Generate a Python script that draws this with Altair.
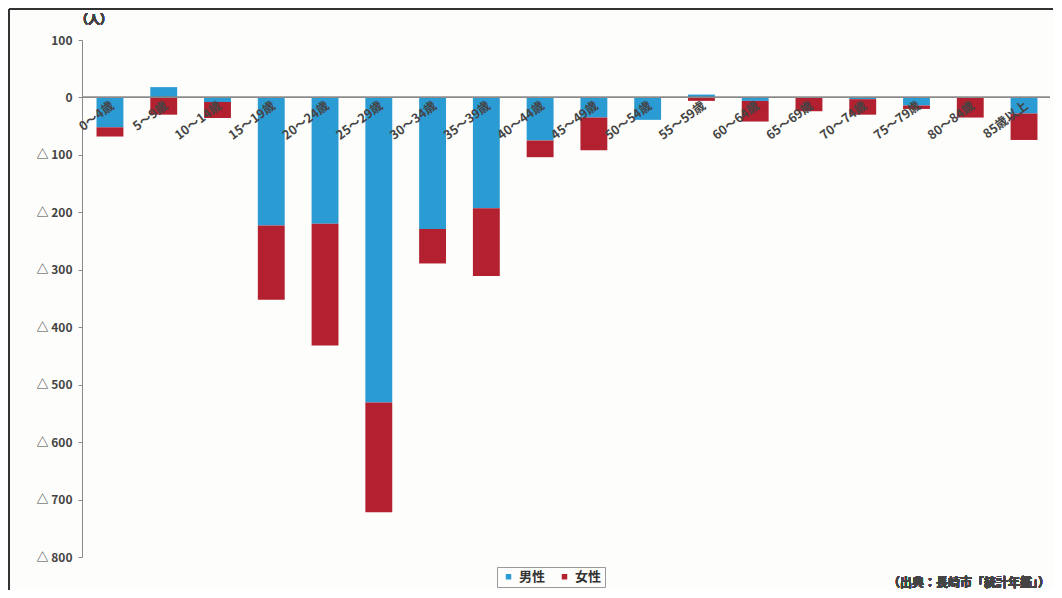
import altair as alt
import pandas as pd

ages = ["0～4歳", "5～9歳", "10～14歳", "15～19歳", "20～24歳", "25～29歳",
        "30～34歳", "35～39歳", "40～44歳", "45～49歳", "50～54歳", "55～59歳",
        "60～64歳", "65～69歳", "70～74歳", "75～79歳", "80～84歳", "85歳以上"]
male = [-52, 18, -8, -223, -220, -531, -229, -193, -75, -35, -39, 5,
        -6, -1, -3, -14, -1, -28]
female = [-16, -30, -28, -129, -212, -191, -60, -118, -29, -57, 0, -6,
          -36, -23, -27, -6, -34, -46]
series = ["男性", "女性"]
colors = ["#2b9bd4", "#b3202f"]
y_ticks = [100, 0, -100, -200, -300, -400, -500, -600, -700, -800]

FONT = "Noto Sans CJK JP"

rows = []
for a, m, f in zip(ages, male, female):
    rows.append({"age": a, "sex": series[0], "ord": 0, "v": m})
    rows.append({"age": a, "sex": series[1], "ord": 1, "v": f})
df = pd.DataFrame(rows)
lab = pd.DataFrame({"age": ages, "zero": [0] * len(ages)})

W, H = 970, 517

xscale = alt.Scale(domain=ages, paddingInner=0.5, paddingOuter=0.27)
yscale = alt.Scale(domain=[-800, 100], nice=False, zero=False)

bars = alt.Chart(df).mark_bar().encode(
    x=alt.X("age:N", scale=xscale, axis=None, sort=ages),
    y=alt.Y("v:Q", scale=yscale, stack="zero",
            axis=alt.Axis(values=y_ticks, grid=False, title=None,
                          labelExpr="datum.value < 0 ? '△ ' + (-datum.value) : datum.value",
                          domainColor="#8a8a8a", tickColor="#8a8a8a", tickSize=4,
                          labelFont=FONT, labelFontSize=12, labelColor="#444",
                          labelFontWeight="bold", labelPadding=6)),
    color=alt.Color("sex:N", scale=alt.Scale(domain=series, range=colors),
                    legend=alt.Legend(title=None, orient="none", legendX=415, legendY=527,
                                      direction="horizontal", symbolType="square",
                                      symbolSize=30, labelFont=FONT, labelFontSize=13,
                                      labelColor="#333", labelFontWeight="bold",
                                      strokeColor="#9a9a9a", padding=3,
                                      columnPadding=10, symbolOffset=2)),
    order=alt.Order("ord:Q"),
)

zero_line = alt.Chart(lab).mark_rule(color="#8a8a8a", strokeWidth=1).encode(
    y=alt.Y("zero:Q", scale=yscale),
    x=alt.value(0), x2=alt.value(W - 2),
)

xlabels = alt.Chart(lab).mark_text(
    angle=323, align="right", baseline="middle", font=FONT, fontSize=12.5,
    fontWeight="bold", color="#444", dx=-2, dy=7,
).encode(
    x=alt.X("age:N", scale=xscale, sort=ages),
    y=alt.Y("zero:Q", scale=yscale),
    text="age:N",
)

unit = alt.Chart(lab).mark_text(font=FONT, fontSize=12, color="#444",
                                fontWeight="bold").encode(
    x=alt.value(12), y=alt.value(-20), text=alt.value("（人）"))

source = alt.Chart(lab).mark_text(font=FONT, fontSize=12, color="#444",
                                  align="right", fontWeight="bold").encode(
    x=alt.value(W - 2), y=alt.value(543), text=alt.value("（出典：長崎市「統計年鑑」）"))

frame_left = alt.Chart(lab).mark_rule(color="#333", strokeWidth=2).encode(
    x=alt.value(-73), y=alt.value(-31), y2=alt.value(551))
frame_top = alt.Chart(lab).mark_rule(color="#333", strokeWidth=2).encode(
    x=alt.value(-73), x2=alt.value(W + 1), y=alt.value(-31))

chart = alt.layer(bars, zero_line, xlabels, unit, source, frame_left, frame_top).properties(
    width=W, height=H,
    autosize=alt.AutoSizeParams(type="none"),
    padding={"left": 74, "top": 32, "right": 2, "bottom": 33},
    background="#fdfdfb",
).configure_view(stroke=None)

chart.save("out.html", embed_options={"renderer": "svg", "actions": False})
